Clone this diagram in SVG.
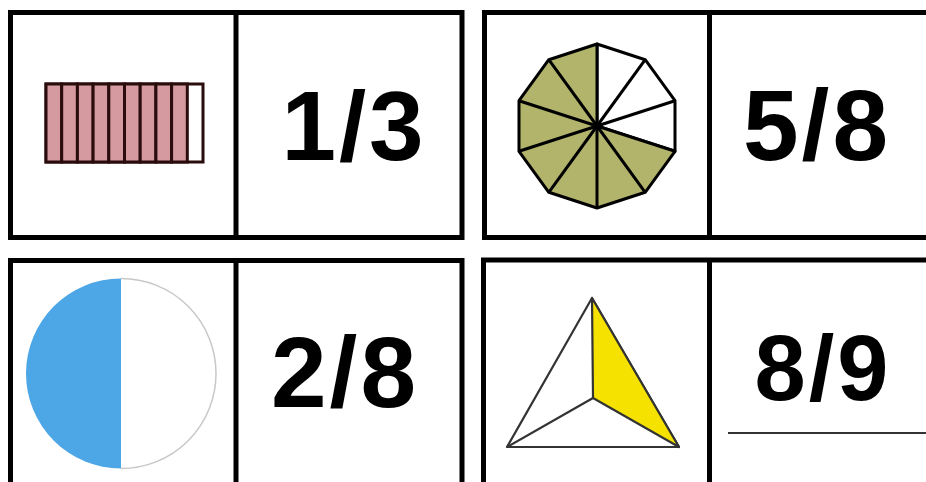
<svg xmlns="http://www.w3.org/2000/svg" width="926" height="482" viewBox="0 0 926 482">
<style>
.box{fill:none;stroke:#000;stroke-width:5}
.num{font-family:"Liberation Sans",Arial,sans-serif;font-weight:bold;fill:#000;text-anchor:middle;letter-spacing:3px}
.bar{fill:#d49aa0;stroke:#2a0c0c;stroke-width:3}
.dec{stroke:#000;stroke-width:3;stroke-linejoin:round}
</style>
<rect width="926" height="482" fill="#fff"/>
<g id="card-1-3">
  <rect class="box" x="10.5" y="12.5" width="451.5" height="225"/>
  <line class="box" x1="236" y1="12.5" x2="236" y2="237.5"/>
  <g id="bar">
    <rect x="46" y="84" width="157" height="78" fill="#fff" stroke="#2a0c0c" stroke-width="3"/>
    <rect class="bar" x="46" y="84" width="15.7" height="78"/>
    <rect class="bar" x="61.7" y="84" width="15.7" height="78"/>
    <rect class="bar" x="77.4" y="84" width="15.7" height="78"/>
    <rect class="bar" x="93.1" y="84" width="15.7" height="78"/>
    <rect class="bar" x="108.8" y="84" width="15.7" height="78"/>
    <rect class="bar" x="124.5" y="84" width="15.7" height="78"/>
    <rect class="bar" x="140.2" y="84" width="15.7" height="78"/>
    <rect class="bar" x="155.9" y="84" width="15.7" height="78"/>
    <rect class="bar" x="171.6" y="84" width="15.7" height="78"/>
  </g>
  <text class="num" x="354" y="160" font-size="98">1/3</text>
</g>
<g id="card-5-8">
  <path class="box" d="M930 12.5 H484.5 V237.5 H930"/>
  <line class="box" x1="709.5" y1="12.5" x2="709.5" y2="237.5"/>
  <g id="decagon" transform="translate(597 126)">
    <path class="dec" fill="#fff" d="M0 0 L0 -82 L48.2 -66.3 L78 -25.3 L78 25.3 Z"/>
    <path class="dec" fill="#b3b46c" d="M0 0 L78 25.3 L48.2 66.3 L0 82 L-48.2 66.3 L-78 25.3 L-78 -25.3 L-48.2 -66.3 L0 -82 Z"/>
    <g class="dec" fill="none">
      <line x1="0" y1="0" x2="48.2" y2="-66.3"/>
      <line x1="0" y1="0" x2="78" y2="-25.3"/>
      <line x1="0" y1="0" x2="48.2" y2="66.3"/>
      <line x1="0" y1="0" x2="0" y2="82"/>
      <line x1="0" y1="0" x2="-48.2" y2="66.3"/>
      <line x1="0" y1="0" x2="-78" y2="25.3"/>
      <line x1="0" y1="0" x2="-78" y2="-25.3"/>
      <line x1="0" y1="0" x2="-48.2" y2="-66.3"/>
    </g>
    <circle r="4" fill="#000"/>
  </g>
  <text class="num" x="817" y="160" font-size="100">5/8</text>
</g>
<g id="card-2-8">
  <path class="box" d="M10.5 490 V260.5 H462 V490"/>
  <line class="box" x1="236" y1="260.5" x2="236" y2="490"/>
  <g id="circle">
    <path d="M121 278.5 A95 95 0 0 0 121 468.5 Z" fill="#4da6e6"/>
    <path d="M121 278.5 A95 95 0 0 1 121 468.5" fill="#fff" stroke="#c8c8c8" stroke-width="1.5"/>
  </g>
  <text class="num" x="345" y="407" font-size="100">2/8</text>
</g>
<g id="card-8-9">
  <path class="box" d="M483.5 490 V260 H930"/>
  <line class="box" x1="709.5" y1="260" x2="709.5" y2="490"/>
  <g id="triangle" stroke="#333" stroke-width="2.2" stroke-linejoin="round">
    <path d="M592 298 L507 447 L679 447 Z" fill="#fff"/>
    <path d="M592 298 L593 398 L679 447 Z" fill="#f5e200"/>
    <path d="M593 398 L507 447" fill="none"/>
  </g>
  <text class="num" x="823" y="400" font-size="92">8/9</text>
  <line x1="728" y1="433" x2="926" y2="433" stroke="#333" stroke-width="2"/>
</g>
</svg>
